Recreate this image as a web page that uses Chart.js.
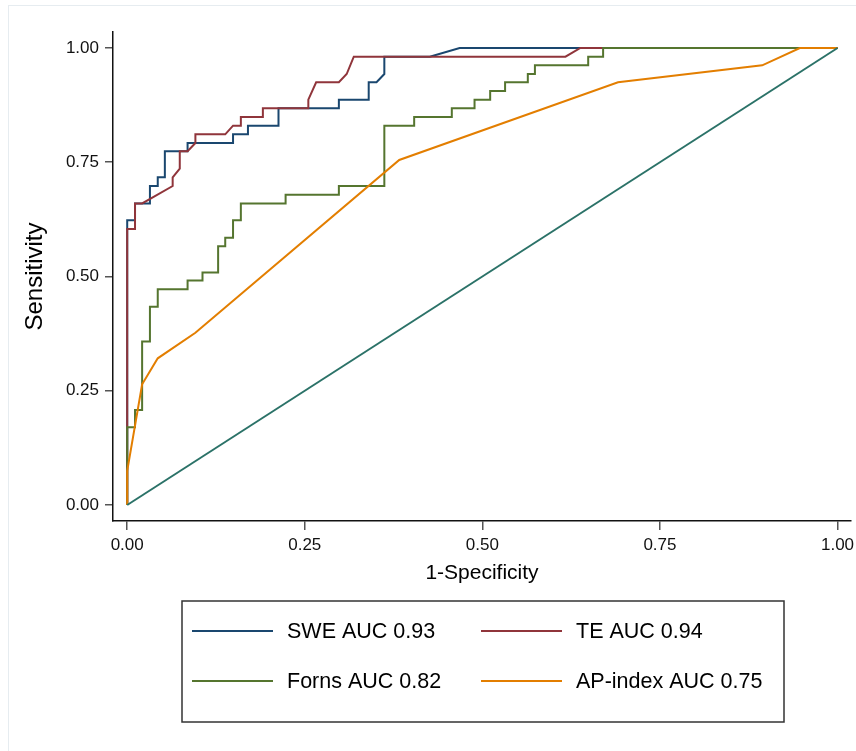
<!DOCTYPE html>
<html>
<head>
<meta charset="utf-8">
<script src="https://cdn.jsdelivr.net/npm/chart.js@4.4.1/dist/chart.umd.min.js"></script>
<style>
  html, body { margin: 0; padding: 0; background: #fff; }
</style>
</head>
<body>
<canvas id="rocChart" width="856" height="751"></canvas>
<script>
// ROC curves, values
let swe_fpr  = [0, 0, 0.011, 0.011, 0.032, 0.032, 0.043, 0.043, 0.053, 0.053, 0.085, 0.085, 0.149, 0.149, 0.170, 0.170, 0.213, 0.213, 0.298, 0.298, 0.340, 0.340, 0.351, 0.362, 0.362, 0.426, 0.468, 1];
let swe_sens = [0, 0.623, 0.623, 0.660, 0.660, 0.698, 0.698, 0.717, 0.717, 0.774, 0.774, 0.792, 0.792, 0.811, 0.811, 0.830, 0.830, 0.868, 0.868, 0.887, 0.887, 0.925, 0.925, 0.943, 0.981, 0.981, 1, 1];

let te_fpr  = [0, 0, 0.011, 0.011, 0.021, 0.064, 0.064, 0.074, 0.074, 0.085, 0.096, 0.096, 0.138, 0.149, 0.160, 0.160, 0.191, 0.191, 0.255, 0.255, 0.266, 0.298, 0.309, 0.319, 0.617, 0.638, 1];
let te_sens = [0, 0.604, 0.604, 0.660, 0.660, 0.698, 0.717, 0.736, 0.774, 0.774, 0.792, 0.811, 0.811, 0.830, 0.830, 0.849, 0.849, 0.868, 0.868, 0.887, 0.925, 0.925, 0.943, 0.981, 0.981, 1, 1];

let forns_fpr  = [0, 0, 0.011, 0.011, 0.021, 0.021, 0.032, 0.032, 0.043, 0.043, 0.085, 0.085, 0.106, 0.106, 0.128, 0.128, 0.138, 0.138, 0.149, 0.149, 0.160, 0.160, 0.223, 0.223, 0.298, 0.298, 0.362, 0.362, 0.404, 0.404, 0.457, 0.457, 0.489, 0.489, 0.511, 0.511, 0.532, 0.532, 0.564, 0.564, 0.574, 0.574, 0.649, 0.649, 0.670, 0.670, 1];
let forns_sens = [0, 0.170, 0.170, 0.208, 0.208, 0.358, 0.358, 0.434, 0.434, 0.472, 0.472, 0.491, 0.491, 0.509, 0.509, 0.566, 0.566, 0.585, 0.585, 0.623, 0.623, 0.660, 0.660, 0.679, 0.679, 0.698, 0.698, 0.830, 0.830, 0.849, 0.849, 0.868, 0.868, 0.887, 0.887, 0.906, 0.906, 0.925, 0.925, 0.943, 0.943, 0.962, 0.962, 0.981, 0.981, 1, 1];

let ap_fpr  = [0, 0, 0.021, 0.043, 0.096, 0.383, 0.691, 0.894, 0.947, 1];
let ap_sens = [0, 0.075, 0.264, 0.321, 0.377, 0.755, 0.925, 0.962, 1, 1];

let ref_fpr  = [0, 1];
let ref_sens = [0, 1];

let legend_labels = ['SWE AUC 0.93', 'TE AUC 0.94', 'Forns AUC 0.82', 'AP-index AUC 0.75'];
let line_colors = ['#1a476f', '#90353b', '#55752f', '#e37e00'];
let ref_color = '#2b7268';

let tick_values = [0, 0.25, 0.5, 0.75, 1];
let tick_labels = ['0.00', '0.25', '0.50', '0.75', '1.00'];

function toPoints(xs, ys) {
    return xs.map((x, i) => ({ x: x, y: ys[i] }));
}

Chart.defaults.font.family = '"Liberation Sans", Arial, Helvetica, sans-serif';
Chart.defaults.color = '#111';

function makeSet(label, xs, ys, color, order) {
    return {
        label: label,
        data: toPoints(xs, ys),
        borderColor: color,
        backgroundColor: color,
        borderWidth: 2,
        pointRadius: 0,
        showLine: true,
        tension: 0,
        fill: false,
        order: order
    };
}

let chart_data = {
    datasets: [
        makeSet(legend_labels[0], swe_fpr, swe_sens, line_colors[0], 5),
        makeSet(legend_labels[1], te_fpr, te_sens, line_colors[1], 4),
        makeSet(legend_labels[2], forns_fpr, forns_sens, line_colors[2], 3),
        makeSet(legend_labels[3], ap_fpr, ap_sens, line_colors[3], 2),
        makeSet('reference', ref_fpr, ref_sens, ref_color, 1)
    ]
};

// faint outer frame, like the exported graph region
const frame = {
    id: 'frame',
    beforeDraw(chart) {
        const ctx = chart.ctx;
        ctx.save();
        ctx.fillStyle = '#fff';
        ctx.fillRect(0, 0, chart.width, chart.height);
        ctx.strokeStyle = '#e6ecf0';
        ctx.lineWidth = 1;
        ctx.strokeRect(8.5, 5.5, chart.width + 20, chart.height + 20);
        ctx.restore();
    }
};

// two-column boxed legend below the plot
const boxLegend = {
    id: 'boxLegend',
    afterDraw(chart) {
        const ctx = chart.ctx;
        ctx.save();
        ctx.strokeStyle = '#333';
        ctx.lineWidth = 1.5;
        ctx.strokeRect(182, 601, 602, 121);

        const cols = [192, 481];
        const rows = [631, 681];
        ctx.font = '21.5px "Liberation Sans", Arial, sans-serif';
        ctx.textBaseline = 'middle';
        ctx.textAlign = 'left';
        for (let i = 0; i < legend_labels.length; i++) {
            let x = cols[i % 2];
            let y = rows[Math.floor(i / 2)];
            ctx.strokeStyle = line_colors[i];
            ctx.lineWidth = 2;
            ctx.beginPath();
            ctx.moveTo(x, y);
            ctx.lineTo(x + 81, y);
            ctx.stroke();
            ctx.fillStyle = '#000';
            ctx.fillText(legend_labels[i], x + 95, y + 1);
        }
        ctx.restore();
    }
};

let config = {
    type: 'scatter',
    data: chart_data,
    options: {
        responsive: false,
        animation: false,
        layout: { padding: { top: 32, right: 5, bottom: 161, left: 0 } },
        plugins: {
            legend: { display: false },
            tooltip: { enabled: false }
        },
        scales: {
            x: {
                type: 'linear',
                min: -0.02,
                max: 1.019,
                afterFit: s => { s.height = 69; s.paddingLeft = 0; s.paddingRight = 0; },
                afterBuildTicks: s => { s.ticks = tick_values.map(v => ({ value: v })); },
                grid: { drawOnChartArea: false, drawTicks: true, tickLength: 9, color: '#555', lineWidth: 1.5 },
                border: { display: true, color: '#111', width: 1.5 },
                ticks: {
                    font: { size: 17 },
                    color: '#111',
                    padding: 5,
                    maxRotation: 0,
                    autoSkip: false,
                    callback: (v) => tick_labels[tick_values.indexOf(v)]
                },
                title: {
                    display: true,
                    text: '1-Specificity',
                    font: { size: 21 },
                    color: '#000',
                    padding: { top: 0, bottom: 4 }
                }
            },
            y: {
                type: 'linear',
                min: -0.035,
                max: 1.035,
                afterFit: s => { s.width = 113; s.paddingTop = 0; s.paddingBottom = 0; },
                afterBuildTicks: s => { s.ticks = tick_values.map(v => ({ value: v })); },
                grid: { drawOnChartArea: false, drawTicks: true, tickLength: 8, color: '#555', lineWidth: 1.5 },
                border: { display: true, color: '#111', width: 1.5 },
                ticks: {
                    font: { size: 17 },
                    color: '#111',
                    padding: 6,
                    autoSkip: false,
                    callback: (v) => tick_labels[tick_values.indexOf(v)]
                },
                title: {
                    display: true,
                    text: 'Sensitivity',
                    font: { size: 24 },
                    color: '#000',
                    padding: { top: 21, bottom: 0 }
                }
            }
        }
    },
    plugins: [frame, boxLegend]
};

let rocChart = new Chart(document.getElementById('rocChart'), config);
</script>
</body>
</html>
